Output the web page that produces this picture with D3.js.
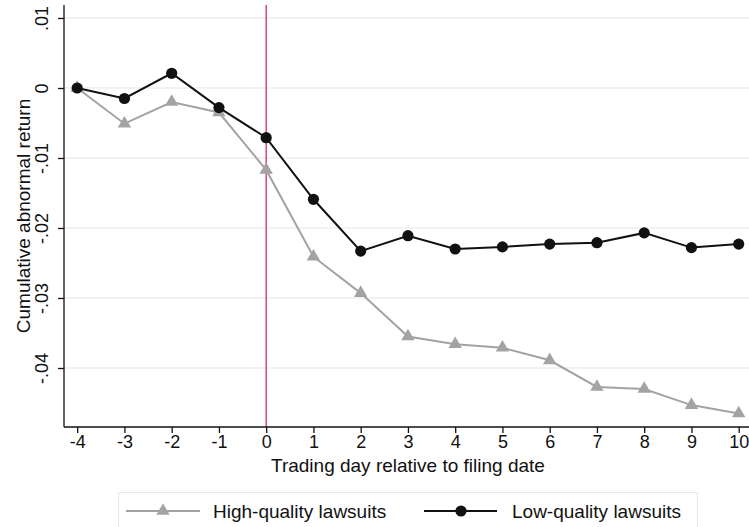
<!DOCTYPE html>
<html>
<head>
<meta charset="utf-8">
<script src="https://cdn.jsdelivr.net/npm/d3@7"></script>
<style>
  html, body { margin: 0; padding: 0; background: #ffffff; }
  svg { display: block; }
  text { font-family: "Liberation Sans", Arial, Helvetica, sans-serif; fill: #111; }
</style>
</head>
<body>
<div id="chart"></div>
<script>
// ---- data ----
const days = [-4, -3, -2, -1, 0, 1, 2, 3, 4, 5, 6, 7, 8, 9, 10];
const highQuality = [0.0000, -0.0051, -0.0020, -0.0035, -0.0117, -0.0241, -0.0293, -0.0355, -0.0366, -0.0371, -0.0389, -0.0427, -0.0430, -0.0453, -0.0465];
const lowQuality  = [0.0000, -0.0015, 0.0021, -0.0028, -0.0071, -0.0159, -0.0233, -0.0211, -0.0230, -0.0227, -0.0223, -0.0221, -0.0207, -0.0228, -0.0223];
const yTicks = [0.01, 0, -0.01, -0.02, -0.03, -0.04];
const yTickLabels = [".01", "0", "-.01", "-.02", "-.03", "-.04"];
const xTicks = days;
const seriesNames = ["High-quality lawsuits", "Low-quality lawsuits"];
const eventDay = 0;

// ---- layout ----
const W = 749, H = 527;
const plotLeft = 64, plotRight = 749, plotTop = 5, plotBottom = 427;

const svg = d3.select("#chart").append("svg")
  .attr("width", W).attr("height", H);

const x = d3.scaleLinear().domain([-4.279, 10.218]).range([plotLeft, plotRight]);
const y = d3.scaleLinear().domain([-0.048429, 0.011857]).range([plotBottom, plotTop]);

// gridlines
svg.append("g").selectAll("line").data(yTicks).join("line")
  .attr("x1", plotLeft).attr("x2", plotRight)
  .attr("y1", d => y(d)).attr("y2", d => y(d))
  .attr("stroke", "#e8eff2").attr("stroke-width", 1.5);

// event line
svg.append("line")
  .attr("x1", x(eventDay)).attr("x2", x(eventDay))
  .attr("y1", plotTop).attr("y2", plotBottom)
  .attr("stroke", "#e0457b").attr("stroke-width", 1.5);

// axes
const yAxis = d3.axisLeft(y).tickValues(yTicks)
  .tickFormat((d, i) => yTickLabels[i]).tickSize(6).tickSizeOuter(0);
const gy = svg.append("g").attr("transform", `translate(${plotLeft},0)`).call(yAxis);
gy.select(".domain").attr("stroke", "#111").attr("stroke-width", 1.3)
  .attr("d", `M0,${plotTop}V${plotBottom}`);
gy.selectAll(".tick line").attr("stroke", "#111").attr("stroke-width", 1.3);
gy.selectAll(".tick text")
  .attr("font-size", 18).attr("fill", "#111")
  .attr("text-anchor", "middle")
  .attr("transform", "rotate(-90)")
  .attr("x", 0).attr("y", 0).attr("dy", 0)
  .each(function() {
    const t = d3.select(this);
    const py = +d3.select(this.parentNode).attr("transform").match(/,([-\d.e]+)\)/)[1];
  });
gy.selectAll(".tick").each(function(d) {
  const g = d3.select(this);
  g.select("text").attr("transform", "translate(-16,0) rotate(-90)");
});

const xAxis = d3.axisBottom(x).tickValues(xTicks).tickFormat(d3.format("d"))
  .tickSize(6).tickSizeOuter(0);
const gx = svg.append("g").attr("transform", `translate(0,${plotBottom})`).call(xAxis);
gx.select(".domain").attr("stroke", "#111").attr("stroke-width", 1.3)
  .attr("d", `M${plotLeft},0H${plotRight}`);
gx.selectAll(".tick line").attr("stroke", "#111").attr("stroke-width", 1.3);
gx.selectAll(".tick text").attr("font-size", 18).attr("fill", "#111")
  .attr("y", 8).attr("dy", "0.71em").text(d => d < 0 ? "-" + Math.abs(d) : String(d));

// axis titles
svg.append("text")
  .attr("x", (x(-4) + x(10)) / 2).attr("y", 472)
  .attr("text-anchor", "middle").attr("font-size", 19)
  .text("Trading day relative to filing date");
svg.append("text")
  .attr("transform", `translate(30,${(plotTop + plotBottom) / 2 + 0}) rotate(-90)`)
  .attr("text-anchor", "middle").attr("font-size", 19)
  .text("Cumulative abnormal return");

// series
const line = d3.line().x((d, i) => x(days[i])).y(d => y(d));
const tri = d3.symbol().type(d3.symbolTriangle).size(78);

svg.append("path").datum(highQuality)
  .attr("d", line).attr("fill", "none")
  .attr("stroke", "#a3a3a3").attr("stroke-width", 2);
svg.append("g").selectAll("path").data(highQuality).join("path")
  .attr("d", tri)
  .attr("transform", (d, i) => `translate(${x(days[i])},${y(d)})`)
  .attr("fill", "#a3a3a3");

svg.append("path").datum(lowQuality)
  .attr("d", line).attr("fill", "none")
  .attr("stroke", "#111").attr("stroke-width", 2);
svg.append("g").selectAll("circle").data(lowQuality).join("circle")
  .attr("cx", (d, i) => x(days[i])).attr("cy", d => y(d))
  .attr("r", 5.6).attr("fill", "#111");

// legend
const lg = svg.append("g");
lg.append("rect").attr("x", 118.5).attr("y", 492.5).attr("width", 579).attr("height", 42)
  .attr("fill", "#fff").attr("stroke", "#e3ebee").attr("stroke-width", 1);
const ly = 511;
lg.append("line").attr("x1", 126).attr("x2", 200).attr("y1", ly).attr("y2", ly)
  .attr("stroke", "#a3a3a3").attr("stroke-width", 2);
lg.append("path").attr("d", tri).attr("transform", `translate(163,${ly})`).attr("fill", "#a3a3a3");
lg.append("text").attr("x", 213).attr("y", ly).attr("dy", "0.35em").attr("font-size", 19)
  .text(seriesNames[0]);
lg.append("line").attr("x1", 424).attr("x2", 497).attr("y1", ly).attr("y2", ly)
  .attr("stroke", "#111").attr("stroke-width", 2);
lg.append("circle").attr("cx", 461).attr("cy", ly).attr("r", 5.6).attr("fill", "#111");
lg.append("text").attr("x", 512).attr("y", ly).attr("dy", "0.35em").attr("font-size", 19)
  .text(seriesNames[1]);
</script>
</body>
</html>
